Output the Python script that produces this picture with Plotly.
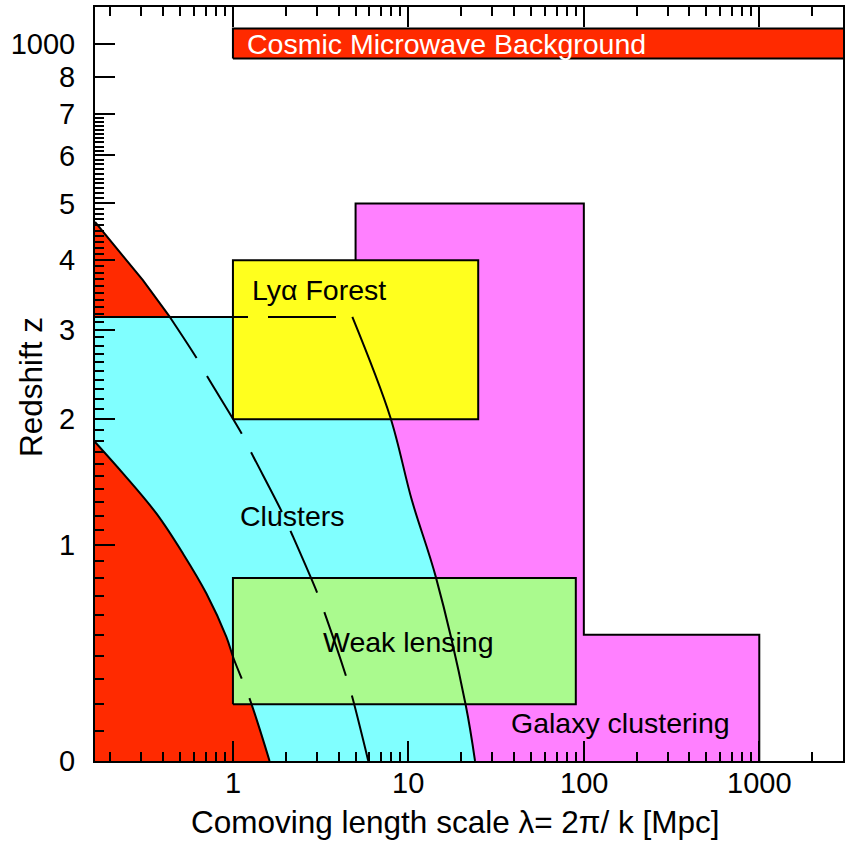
import numpy as np
import plotly.graph_objects as go

# ---- data: length scale lambda [Mpc] and redshift z ----
# lower nonlinear boundary (lower red region)
nl_low_lam = [0.1636, 0.2368, 0.3669, 0.5196, 0.7059, 0.9172, 1.009, 1.244, 1.617]
nl_low_z = [1.788, 1.518, 1.214, 0.947, 0.713, 0.490, 0.390, 0.222, 0.0]

# upper red boundary, continued as the long-dashed curve
nl_high_lam = [0.1636, 0.3066, 0.4367, 0.6217, 0.7182, 1.135, 1.277, 1.917,
               2.157, 3.030, 3.322, 4.431, 4.792, 5.908]
nl_high_z = [4.653, 3.688, 3.166, 2.648, 2.432, 1.849, 1.689, 1.217,
             1.079, 0.714, 0.612, 0.309, 0.227, 0.0]

# right-hand edge of the cluster region
cl_lam = [4.792, 7.880, 10.47, 14.33, 21.23, 23.98]
cl_z = [3.166, 2.021, 1.311, 0.807, 0.196, 0.0]
cl_zmax = 3.166

# rectangular probes: (lambda_min, lambda_max, z_min, z_max)
lya_box = (1.0, 25.0, 2.0, 4.0)
wl_box = (1.0, 90.0, 0.2, 0.8)
gal_lam = [5.0, 5.0, 100.0, 100.0, 1000.0, 1000.0]
gal_z = [0.0, 5.0, 5.0, 0.5, 0.5, 0.0]
cmb_box = (1.0, 3300.0, 955.0, 1052.0)

lam_min, lam_max = 0.1636, 3000.0

y_ticks_z = [0, 1, 2, 3, 4, 5, 6, 7, 8, 1000]
y_ticks_text = ["0", "1", "2", "3", "4", "5", "6", "7", "8", "1000"]
x_ticks = [1, 10, 100, 1000]
x_ticks_text = ["1", "10", "100", "1000"]


def xpos(lam):
    """Horizontal position: log10 of the length scale."""
    return np.log10(np.asarray(lam, dtype=float))


def ypos(z):
    """Vertical position: log10(1+z); the axis is broken above z=8 so that
    z ~ 1000 sits just above the top tick."""
    z = np.asarray(z, dtype=float)
    return np.where(z > 100, np.log10(1 + z) - 2, np.log10(1 + z))


RED = "#FF2A00"
CYAN = "#80FFFF"
MAGENTA = "#FF80FF"
YELLOW = "#FFFF1E"
GREEN = "#AAFA8E"
FONT = "Liberation Sans, Arial, Helvetica, sans-serif"

fig = go.Figure()


def poly(lam, z, color, outline=True):
    fig.add_trace(go.Scatter(
        x=xpos(lam), y=ypos(z), mode="lines", fill="toself", fillcolor=color,
        line=dict(color="black" if outline else color, width=2 if outline else 0),
        hoverinfo="skip", showlegend=False))


def under(lam, z, color, shape="linear"):
    # area between a boundary and z = 0
    fig.add_trace(go.Scatter(
        x=xpos(lam), y=ypos(z), mode="lines", fill="tozeroy", fillcolor=color,
        line=dict(color=color, width=0, shape=shape),
        hoverinfo="skip", showlegend=False))


def box(b, color):
    l0, l1, z0, z1 = b
    poly([l0, l0, l1, l1, l0], [z0, z1, z1, z0, z0], color)


def curve(lam, z, dash="solid", shape="spline"):
    fig.add_trace(go.Scatter(
        x=xpos(lam), y=ypos(z), mode="lines",
        line=dict(color="black", width=2, dash=dash, shape=shape),
        hoverinfo="skip", showlegend=False))


# galaxy clustering
poly(gal_lam, gal_z, MAGENTA)
# clusters: straight part up to the second boundary point, then the curved edge
poly([lam_min, lam_min, cl_lam[0], cl_lam[1], cl_lam[1]],
     [0, cl_zmax, cl_zmax, cl_z[1], 0], CYAN, outline=False)
under(cl_lam, cl_z, CYAN, shape="spline")
# nonlinear regions
under(nl_low_lam, nl_low_z, RED, shape="spline")
poly(nl_high_lam[:3] + [lam_min], nl_high_z[:3] + [cl_zmax], RED, outline=False)
# Ly-alpha forest and weak lensing
box(lya_box, YELLOW)
box(wl_box, GREEN)
# CMB band
box(cmb_box, RED)

# outlines drawn on top
curve(nl_high_lam[:3], nl_high_z[:3], shape="linear")
curve(nl_high_lam[2:], nl_high_z[2:],
      dash="49px,21px,67px,21px,67px,21px,67px,21px,67px,21px,67px,21px,67px,21px")
curve([lam_min, cl_lam[0]], [cl_zmax, cl_zmax], dash="153px,20px,68px,60px",
      shape="linear")
curve(cl_lam, cl_z)
curve(nl_low_lam, nl_low_z, dash="281px,21px,300px")

# invisible trace that carries the decade-tick x axis
fig.add_trace(go.Scatter(x=[0.0], y=[0.0], xaxis="x2", mode="markers",
                         marker=dict(opacity=0), hoverinfo="skip",
                         showlegend=False))

# ---- labels ----
labels = [
    ("Cosmic Microwave Background", 1.166, 1000.0, "white"),
    ("Lyα Forest", 1.245, 3.55, "black"),
    ("Clusters", 1.063, 1.196, "black"),
    ("Weak lensing", 3.18, 0.465, "black"),
    ("Galaxy clustering", 37.4, 0.131, "black"),
]
for text, lx, lz, col in labels:
    fig.add_annotation(x=float(xpos(lx)), y=float(ypos(lz)), text=text,
                       showarrow=False, xanchor="left", yanchor="middle",
                       font=dict(family=FONT, size=28.5, color=col))

# x tick labels
for v, t in zip(x_ticks, x_ticks_text):
    fig.add_annotation(x=float(xpos(v)), y=0, xref="x", yref="paper", yshift=-22,
                       text=t, showarrow=False, xanchor="center", yanchor="middle",
                       font=dict(family=FONT, size=29, color="black"))

fig.add_annotation(x=0.482, y=0, xref="paper", yref="paper", yshift=-61,
                   text="Comoving length scale λ= 2π/ k [Mpc]", showarrow=False,
                   xanchor="center", yanchor="middle",
                   font=dict(family=FONT, size=31.5, color="black"))
fig.add_annotation(x=0, y=0.496, xref="paper", yref="paper", xshift=-64,
                   text="Redshift z", showarrow=False, textangle=-90,
                   xanchor="center", yanchor="middle",
                   font=dict(family=FONT, size=31.5, color="black"))

minor_x = [m * 10.0 ** e for e in range(-1, 4) for m in range(2, 10)
           if lam_min < m * 10.0 ** e < lam_max]
minor_z = [round(i * 0.1, 1) for i in range(1, 70) if i % 10 != 0]

x_range = [float(xpos(lam_min)), float(xpos(lam_max))]
x_major = [float(v) for v in xpos(x_ticks)]
x_minor = [float(v) for v in xpos(minor_x)]

fig.update_layout(
    # short ticks at 2..9 of every decade, bottom and top
    xaxis=dict(range=x_range, tickmode="array", tickvals=x_minor,
               showticklabels=False, ticks="inside", ticklen=9, tickwidth=2,
               tickcolor="black", showline=True, linewidth=2, linecolor="black",
               mirror="ticks", showgrid=False, zeroline=False),
    # long ticks at each decade, bottom and top
    xaxis2=dict(range=x_range, overlaying="x", side="bottom", anchor="y",
                tickmode="array", tickvals=x_major, showticklabels=False,
                ticks="inside", ticklen=20, tickwidth=2, tickcolor="black",
                showline=False, mirror="ticks", showgrid=False, zeroline=False),
    yaxis=dict(
        range=[0, 1.0523],
        tickmode="array", tickvals=[float(v) for v in ypos(y_ticks_z)],
        ticktext=y_ticks_text,
        ticks="inside", ticklen=20, tickwidth=2, tickcolor="black",
        minor=dict(tickmode="array", tickvals=[float(v) for v in ypos(minor_z)],
                   ticks="inside", ticklen=9, tickwidth=2, tickcolor="black"),
        showline=True, linewidth=2, linecolor="black", mirror=True,
        showgrid=False, zeroline=False, ticklabelstandoff=12,
        tickfont=dict(family=FONT, size=29, color="black")),
    width=847, height=845,
    margin=dict(l=95, r=1.5, t=7, b=84),
    paper_bgcolor="white", plot_bgcolor="white",
    showlegend=False)

fig.write_html("out.html")
